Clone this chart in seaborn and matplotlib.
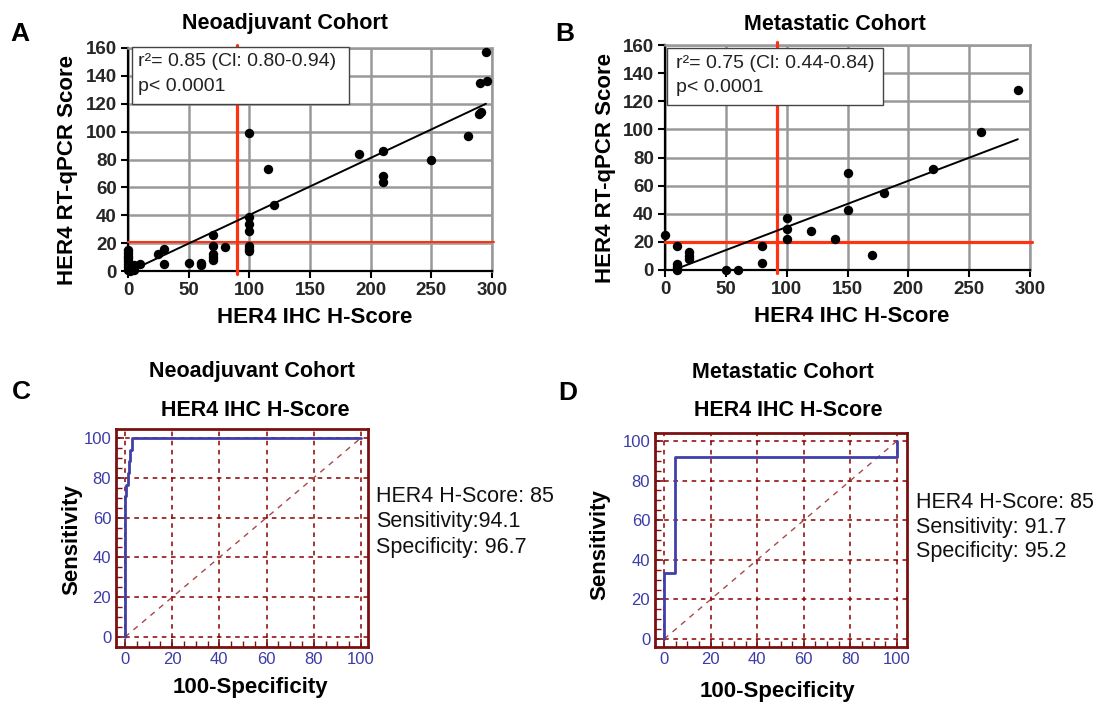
import seaborn as sns
import matplotlib.pyplot as plt
from matplotlib.patches import Rectangle
from matplotlib.ticker import MultipleLocator

# A - neoadjuvant cohort: IHC H-score vs RT-qPCR score
neo_ihc = [0, 0, 0, 0, 0, 0, 0, 0, 2, 3, 5, 5, 10,
           25, 30, 30, 50, 60, 60, 70, 70, 70, 70, 70, 80,
           100, 100, 100, 100, 100, 100, 100,
           115, 120, 190, 210, 210, 210, 250, 280, 289, 291, 290, 296, 295]
neo_pcr = [15, 13, 11, 9, 7, 5, 3, 1, 0, 2, 1, 4, 5,
           12, 16, 5, 6, 6, 4.5, 26, 18, 12, 10, 8, 17,
           99, 39, 34, 29, 18, 16, 14,
           73, 47, 84, 86, 68, 64, 80, 97, 113, 114, 135, 136, 157]
neo_fit_x = [3, 295]
neo_fit_y = [0.5, 120]

# B - metastatic cohort
met_ihc = [0, 10, 10, 10, 10, 10, 20, 20, 20, 50, 60, 80, 80,
           100, 100, 100, 120, 140, 150, 150, 170, 180, 220, 260, 290]
met_pcr = [25, 17, 4, 2, 1, 0, 13, 10, 8, 0, 0, 17, 5,
           37, 29, 22, 28, 22, 69, 43, 11, 55, 72, 98, 128]
met_fit_x = [10, 290]
met_fit_y = [1, 93]

# C / D - ROC curves (100-specificity vs sensitivity)
neo_fpr = [0, 0, 0.6, 0.6, 1.1, 1.1, 1.6, 1.6, 2.2, 2.2, 3.0, 3.0, 100]
neo_tpr = [0, 70.6, 70.6, 76.5, 76.5, 82.4, 82.4, 88.2, 88.2, 94.1, 94.1, 100, 100]
met_fpr = [0, 0, 4.8, 4.8, 100, 100]
met_tpr = [0, 33.3, 33.3, 91.7, 91.7, 100]

neo_stats = ["HER4 H-Score: 85", "Sensitivity:94.1", "Specificity: 96.7"]
met_stats = ["HER4 H-Score: 85", "Sensitivity: 91.7", "Specificity: 95.2"]

sns.set_theme(style="white")
plt.rcParams['font.family'] = ['Liberation Sans', 'DejaVu Sans']

W, H = 1097, 702
fig = plt.figure(figsize=(W / 100, H / 100), dpi=100)


def box(left, top, right, bottom):
    # pixel box -> figure fraction rect
    return [left / W, 1 - bottom / H, (right - left) / W, (bottom - top) / H]


def ftext(px, py, s, **kw):
    fig.text(px / W, 1 - py / H, s, **kw)


RED = '#ff3311'


def scatter_panel(ax, x, y, fit_x, fit_y, vx, hy, vlw, hlw, lines, rect, txt_x, txt_y):
    ax.set_xlim(0, 300)
    ax.set_ylim(0, 160)
    ax.xaxis.set_major_locator(MultipleLocator(50))
    ax.yaxis.set_major_locator(MultipleLocator(20))
    ax.set_axisbelow(True)
    ax.grid(True, color='#999999', lw=1.8)
    for s in ['top', 'right']:
        ax.spines[s].set_color('#999999')
        ax.spines[s].set_linewidth(1.8)
    for s in ['left', 'bottom']:
        ax.spines[s].set_color('black')
        ax.spines[s].set_linewidth(1.6)
    ax.plot([vx, vx], [-2, 162], color=RED, lw=vlw, clip_on=False, zorder=3)
    ax.plot([0, 302], [hy, hy], color=RED, lw=hlw, clip_on=False, zorder=3)
    sns.lineplot(x=fit_x, y=fit_y, ax=ax, color='black', lw=1.4, zorder=4)
    sns.scatterplot(x=x, y=y, ax=ax, color='black', s=46, linewidth=0,
                    clip_on=False, zorder=5)
    ax.add_patch(Rectangle((rect[0], rect[1]), rect[2] - rect[0], rect[3] - rect[1],
                           fc='white', ec='#444444', lw=1.0, zorder=6, clip_on=False))
    for s, ty in zip(lines, txt_y):
        ax.text(txt_x, ty, s, fontsize=14, color='#222222',
                va='center', ha='left', zorder=7)
    ax.tick_params(axis='both', which='major', direction='out', length=5, width=1.5,
                   color='black', labelsize=13.5, pad=3, left=True, bottom=True)
    for lab in ax.get_xticklabels() + ax.get_yticklabels():
        lab.set_fontweight('bold')
    ax.set_xlabel('')
    ax.set_ylabel('')


MAROON = '#7b1010'


def roc_panel(ax, fpr, tpr, xlim, ylim):
    ax.set_xlim(*xlim)
    ax.set_ylim(*ylim)
    ax.xaxis.set_major_locator(MultipleLocator(20))
    ax.yaxis.set_major_locator(MultipleLocator(20))
    ax.xaxis.set_minor_locator(MultipleLocator(5))
    ax.yaxis.set_minor_locator(MultipleLocator(5))
    ax.grid(True, which='major', color='#8b0000', ls=(0, (3, 3)), lw=1.1)
    ax.plot([0, 100], [0, 100], color='#a84848', ls=(0, (4, 4)), lw=1.0, zorder=2)
    sns.lineplot(x=fpr, y=tpr, ax=ax, sort=False, estimator=None,
                 color='#4040a8', lw=2, zorder=3)
    for s in ax.spines.values():
        s.set_color(MAROON)
        s.set_linewidth(2)
    ax.tick_params(axis='both', which='both', direction='in', color=MAROON,
                   labelcolor='#3c3ca8', labelsize=12, left=True, bottom=True,
                   top=False, right=False)
    ax.tick_params(which='major', length=6, width=1.2)
    ax.tick_params(which='minor', length=4, width=1.0)
    ax.set_xlabel('')
    ax.set_ylabel('')


# A
axA = fig.add_axes(box(128, 48, 492, 271))
scatter_panel(axA, neo_ihc, neo_pcr, neo_fit_x, neo_fit_y, 90, 21, 2.3, 1.5,
              ["r²= 0.85 (Cl: 0.80-0.94)", "p< 0.0001"], (3, 120, 182, 161), 8, (150, 132.5))
# B
axB = fig.add_axes(box(665, 45, 1030, 270))
scatter_panel(axB, met_ihc, met_pcr, met_fit_x, met_fit_y, 92, 20, 2.3, 2.3,
              ["r²= 0.75 (Cl: 0.44-0.84)", "p< 0.0001"], (1.5, 117, 179, 158), 9, (146.5, 129.5))
# C
axC = fig.add_axes(box(116, 429, 368, 647))
roc_panel(axC, neo_fpr, neo_tpr, (-3.8, 103), (-5, 104.5))
# D
axD = fig.add_axes(box(655, 433, 907, 647))
roc_panel(axD, met_fpr, met_tpr, (-3.9, 104.3), (-4, 104))

bold = dict(fontweight='bold', color='black')
# panel letters
for px, py, s in [(20, 34, 'A'), (565, 34, 'B'), (21, 392, 'C'), (568, 393, 'D')]:
    ftext(px, py, s, fontsize=19, ha='center', va='center', **bold)

# titles
ftext(285, 24, 'Neoadjuvant Cohort', fontsize=15.5, ha='center', va='center', **bold)
ftext(835, 24, 'Metastatic Cohort', fontsize=15.5, ha='center', va='center', **bold)
ftext(252, 372, 'Neoadjuvant Cohort', fontsize=15.5, ha='center', va='center', **bold)
ftext(255, 411, 'HER4 IHC H-Score', fontsize=15.5, ha='center', va='center', **bold)
ftext(783, 372, 'Metastatic Cohort', fontsize=15.5, ha='center', va='center', **bold)
ftext(788, 411, 'HER4 IHC H-Score', fontsize=15.5, ha='center', va='center', **bold)

# axis labels
ftext(68, 170, 'HER4 RT-qPCR Score', fontsize=16, rotation=90, ha='center', va='center', **bold)
ftext(315, 318, 'HER4 IHC H-Score', fontsize=16, ha='center', va='center', **bold)
ftext(605, 168, 'HER4 RT-qPCR Score', fontsize=16, rotation=90, ha='center', va='center', **bold)
ftext(852, 316, 'HER4 IHC H-Score', fontsize=16, ha='center', va='center', **bold)
ftext(72, 540, 'Sensitivity', fontsize=16, rotation=90, ha='center', va='center', **bold)
ftext(250, 688, '100-Specificity', fontsize=16, ha='center', va='center', **bold)
ftext(600, 545, 'Sensitivity', fontsize=16, rotation=90, ha='center', va='center', **bold)
ftext(777, 692, '100-Specificity', fontsize=16, ha='center', va='center', **bold)

# ROC cut-off statistics
for i, s in enumerate(neo_stats):
    ftext(376, 497 + 25 * i, s, fontsize=15.5, ha='left', va='center', color='#111111')
for i, s in enumerate(met_stats):
    ftext(916, 503 + 24 * i, s, fontsize=15.5, ha='left', va='center', color='#111111')

fig.savefig('out.png', dpi=100)
